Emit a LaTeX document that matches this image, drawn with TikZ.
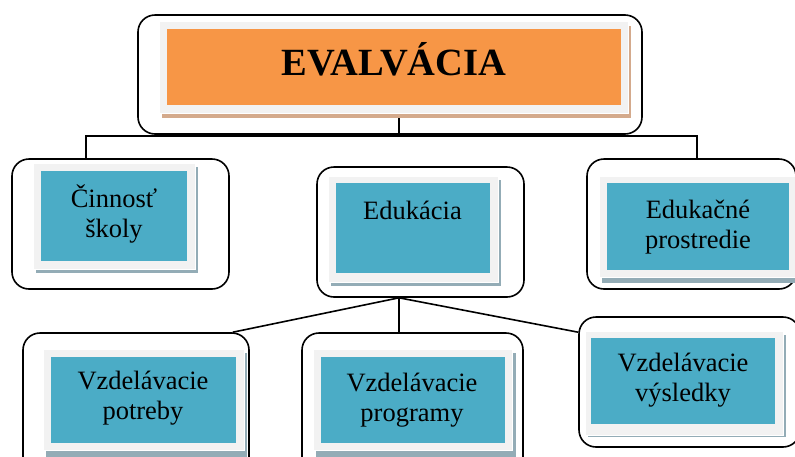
\documentclass[tikz,border=0pt]{standalone}
\usepackage{fontspec}
\setmainfont{Liberation Serif}
\usetikzlibrary{calc,fit}
\definecolor{orangefill}{HTML}{F79646}
\definecolor{orangeshadow}{HTML}{D4AA8C}
\definecolor{bluefill}{HTML}{4BACC6}
\definecolor{blueshadow}{HTML}{93ACB6}
\definecolor{framegray}{HTML}{F2F2F2}
\begin{document}
\begin{tikzpicture}[x=1pt,y=-1pt,
  outerbox/.style={draw=black, line width=1.6pt, rounded corners=17pt, inner sep=0pt},
  shadowbox/.style={fill=blueshadow, draw=none, inner sep=0pt},
  oshadowbox/.style={fill=orangeshadow, draw=none, inner sep=0pt},
  framebox/.style={fill=framegray, draw=white, line width=0.8pt, inner sep=0pt},
  bluebox/.style={fill=bluefill, draw=none, inner sep=0pt},
  orangebox/.style={fill=orangefill, draw=none, inner sep=0pt},
  lbl/.style={anchor=base, align=center, inner sep=0pt, font=\fontsize{26.5}{30}\selectfont},
  titletext/.style={anchor=base, inner sep=0pt, font=\fontsize{38.5}{40}\selectfont\bfseries},
  conn/.style={draw=black, line width=1.6pt}]
\clip (0,0) rectangle (795,456);
\fill[white] (0,0) rectangle (795,456);

% ---- top box
\node[outerbox, fit={(138,15) (642,134)}] (oT) {};
\node[oshadowbox, fit={(162,26) (631,118)}] (sT) {};
\node[framebox, fit={(159,21) (628,113)}] (fT) {};
\node[orangebox, fit={(167,29) (621,105)}] (bT) {};
\node[titletext] (tT) at (394,75) {EVALVÁCIA};

% ---- second row
\node[outerbox, fit={(12,159) (229,289)}] (oL) {};
\node[shadowbox, fit={(36,167) (198,273)}] (sL) {};
\node[framebox, fit={(33,163) (195,269)}] (fL) {};
\node[bluebox, fit={(41,171) (187,261)}] (bL) {};
\node[lbl] (tL) at (114,237) {Činnosť\\školy};

\node[outerbox, fit={(317,167) (524,297)}] (oE) {};
\node[shadowbox, fit={(331,180) (501,286)}] (sE) {};
\node[framebox, fit={(328,176) (498,282)}] (fE) {};
\node[bluebox, fit={(336,183) (490,273)}] (bE) {};
\node[lbl] (tE) at (412.5,219) {Edukácia};

\node[outerbox, fit={(587,159) (796,289)}] (oR) {};
\node[shadowbox, fit={(602,180) (799,283)}] (sR) {};
\node[framebox, fit={(599,176) (796,277)}] (fR) {};
\node[bluebox, fit={(607,183) (789,270)}] (bR) {};
\node[lbl] (tR) at (698,248) {Edukačné\\prostredie};

% ---- third row
\node[outerbox, fit={(23,333) (249,475)}] (oB1) {};
\node[shadowbox, fit={(46,353) (247,460)}] (sB1) {};
\node[framebox, fit={(43,349) (244,450)}] (fB1) {};
\node[bluebox, fit={(51,357) (236,443)}] (bB1) {};
\node[lbl] (tB1) at (143,419) {Vzdelávacie\\potreby};

\node[outerbox, fit={(302,333) (523,475)}] (oB2) {};
\node[shadowbox, fit={(316,353) (516,460)}] (sB2) {};
\node[framebox, fit={(313,349) (512,450)}] (fB2) {};
\node[bluebox, fit={(321,357) (505,443)}] (bB2) {};
\node[lbl] (tB2) at (412,421) {Vzdelávacie\\programy};

\node[outerbox, fit={(579,317) (800,447)}] (oB3) {};
\node[shadowbox, fit={(588,335) (786,437)}] (sB3) {};
\node[framebox, fit={(585,331) (783,435)}] (fB3) {};
\node[bluebox, fit={(591,338) (775,424)}] (bB3) {};
\node[lbl] (tB3) at (683,401) {Vzdelávacie\\výsledky};

% ---- connectors
\coordinate (hub) at (399,136);
\coordinate (xl) at (86,0);
\coordinate (xr) at (697,0);
\draw[conn] (sT.south -| hub) -- (hub);
\draw[conn] (oL.north -| xl) |- (hub) -| (oR.north -| xr);
\coordinate (apex) at (oE.south -| hub);
\draw[conn] (apex) -- ($(oB1.north east)+(-17,0)$);
\draw[conn] (apex) -- (oB2.north -| hub);
\draw[conn] (apex) -- ($(oB3.north west)+(0,16)$);
\end{tikzpicture}
\end{document}
